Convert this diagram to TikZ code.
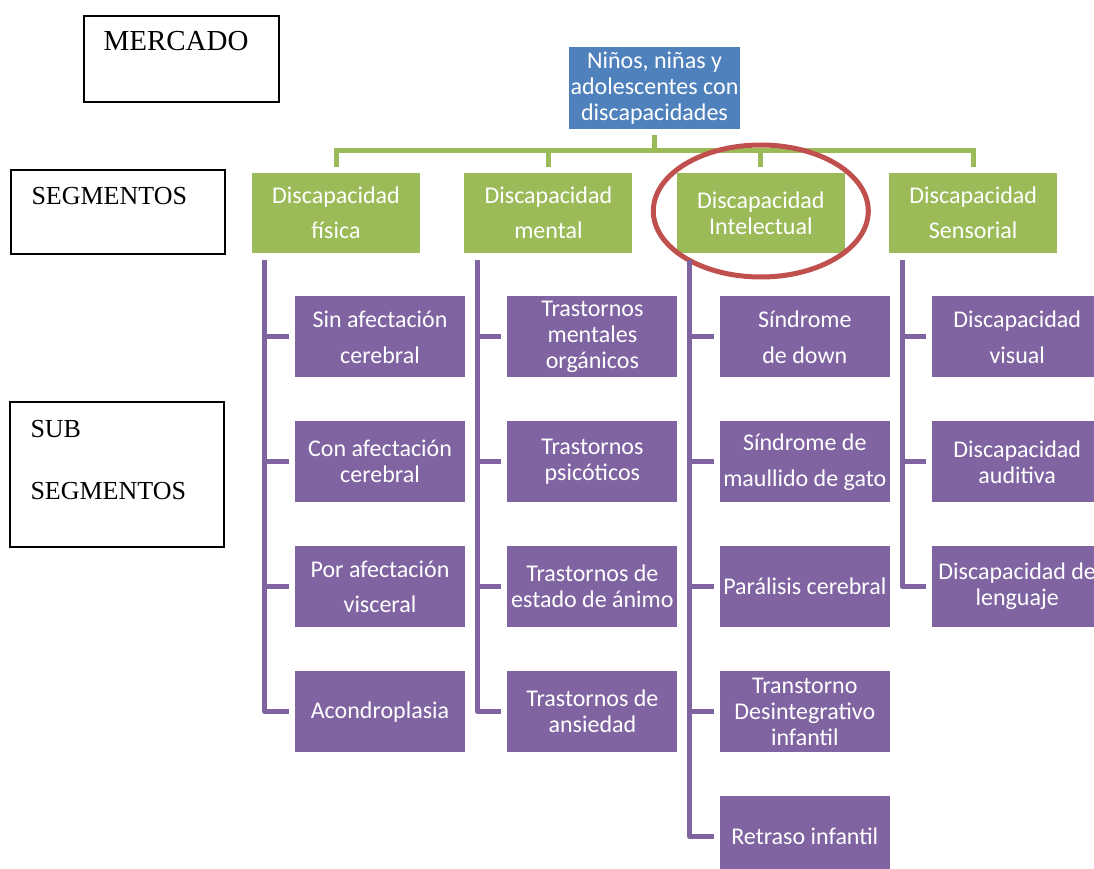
\documentclass[tikz,border=0pt]{standalone}
\usepackage{fontspec}
\setmainfont{Carlito}
\newfontfamily\sidefont{Liberation Serif}
\usetikzlibrary{positioning}

\definecolor{rootblue}{HTML}{4F81BD}
\definecolor{seggreen}{HTML}{9BBB59}
\definecolor{subpurple}{HTML}{8064A2}
\definecolor{ringred}{HTML}{C0504D}

\begin{document}
\begin{tikzpicture}[
    x=1pt, y=1pt,
    font=\fontsize{24}{26}\selectfont,
    rootbox/.style = {fill=rootblue, text=white, align=center,
                      minimum width=171pt, minimum height=82pt, inner sep=1pt},
    segbox/.style  = {fill=seggreen, text=white, align=center,
                      minimum width=168pt, minimum height=80pt, inner sep=1pt},
    subbox/.style  = {fill=subpurple, text=white, align=center,
                      minimum width=170pt, minimum height=81pt, inner sep=1pt},
    sidebox/.style = {draw, line width=1.4pt, minimum width=214pt, inner sep=0pt},
    sidetxt/.style = {font=\sidefont\fontsize{26}{26}\selectfont,
                      anchor=base west, inner sep=0pt},
    greenlink/.style  = {draw=seggreen, line width=5pt,
                         shorten <=6pt, shorten >=6pt},
    purplelink/.style = {draw=subpurple, line width=5pt, line join=round,
                         shorten <=7pt, shorten >=6pt},
    ring/.style    = {draw=ringred, line width=5pt}
]
\clip (0,0) rectangle (1094,-869);

%% ── Cuadros de la izquierda ─────────────────────────────────────────────────
\node[sidebox, minimum width=195pt, minimum height=86pt] (mktbox) at (181.5,-59) {};
\node[sidetxt, font=\sidefont\fontsize{29}{29}\selectfont]
     (mkt) at ([xshift=20pt, yshift=-35pt]mktbox.north west) {MERCADO};

\node[sidebox, minimum height=84pt] (segsbox) at (118,-212) {};
\node[sidetxt] (segs) at ([xshift=21pt, yshift=-35pt]segsbox.north west) {SEGMENTOS};

\node[sidebox, minimum height=145pt] (subsbox) at (117,-474.5) {};
\node[sidetxt] (subs1) at ([xshift=21pt, yshift=-36pt]subsbox.north west) {SUB};
\node[sidetxt] (subs2) at ([xshift=21pt, yshift=-98pt]subsbox.north west) {SEGMENTOS};

%% ── Mercado y segmentos ─────────────────────────────────────────────────────
\node[rootbox] (root) at (654.5,-88) {Niños, niñas y\\adolescentes con\\discapacidades};

\node[segbox] (fis) at (336,-213) {Discapacidad\\[9pt]física};
\node[segbox, right=44pt of fis] (men) {Discapacidad\\[9pt]mental};
\node[segbox, right=44pt of men] (int) {Discapacidad\\Intelectual};
\node[segbox, right=44pt of int] (sen) {Discapacidad\\[9pt]Sensorial};

\foreach \seg in {fis, men, int, sen}
    \draw[greenlink] (root.south) -- ++(0,-21) -| (\seg.north);

\draw[ring] ([yshift=2pt]int.center) ellipse [x radius=107.5pt, y radius=66pt];

%% ── Subsegmentos: física ────────────────────────────────────────────────────
\node[subbox, below=43pt of fis.south, xshift=44pt] (fis1) {Sin afectación\\[10pt]cerebral};
\node[subbox, below=43.5pt of fis1] (fis2) {Con afectación\\cerebral};
\node[subbox, below=43.5pt of fis2] (fis3) {Por afectación\\[9pt]visceral};
\node[subbox, below=43.5pt of fis3] (fis4) {Acondroplasia};

%% ── Subsegmentos: mental ────────────────────────────────────────────────────
\node[subbox, below=43pt of men.south, xshift=44pt] (men1) {Trastornos\\mentales\\orgánicos};
\node[subbox, below=43.5pt of men1] (men2) {Trastornos\\psicóticos};
\node[subbox, below=43.5pt of men2] (men3) {Trastornos de\\estado de ánimo};
\node[subbox, below=43.5pt of men3] (men4) {Trastornos de\\ansiedad};

%% ── Subsegmentos: intelectual ───────────────────────────────────────────────
\node[subbox, below=43pt of int.south, xshift=44pt] (int1) {Síndrome\\[10pt]de down};
\node[subbox, below=43.5pt of int1] (int2) {Síndrome de\\[10pt]maullido de gato};
\node[subbox, below=43.5pt of int2] (int3) {Parálisis cerebral};
\node[subbox, below=43.5pt of int3] (int4) {Transtorno\\Desintegrativo\\infantil};
\node[subbox, below=43.5pt of int4] (int5) {Retraso infantil};

%% ── Subsegmentos: sensorial ─────────────────────────────────────────────────
\node[subbox, below=43pt of sen.south, xshift=44pt] (sen1) {Discapacidad\\[10pt]visual};
\node[subbox, below=43.5pt of sen1] (sen2) {Discapacidad\\auditiva};
\node[subbox, below=43.5pt of sen2] (sen3) {Discapacidad de\\lenguaje};

%% ── Líneas de los subsegmentos ──────────────────────────────────────────────
\coordinate (fisbus) at ([xshift=13pt]fis.south west);
\coordinate (menbus) at ([xshift=13pt]men.south west);
\coordinate (intbus) at ([xshift=13pt]int.south west);
\coordinate (senbus) at ([xshift=13pt]sen.south west);

\draw[purplelink] (fisbus) |- (fis4.west);
\draw[purplelink] (menbus) |- (men4.west);
\draw[purplelink] (intbus) |- (int5.west);
\draw[purplelink] (senbus) |- (sen3.west);

\foreach \kid in {fis1, fis2, fis3}
    \draw[purplelink, shorten <=0pt] (fisbus |- \kid.west) -- (\kid.west);
\foreach \kid in {men1, men2, men3}
    \draw[purplelink, shorten <=0pt] (menbus |- \kid.west) -- (\kid.west);
\foreach \kid in {int1, int2, int3, int4}
    \draw[purplelink, shorten <=0pt] (intbus |- \kid.west) -- (\kid.west);
\foreach \kid in {sen1, sen2}
    \draw[purplelink, shorten <=0pt] (senbus |- \kid.west) -- (\kid.west);

\end{tikzpicture}
\end{document}
